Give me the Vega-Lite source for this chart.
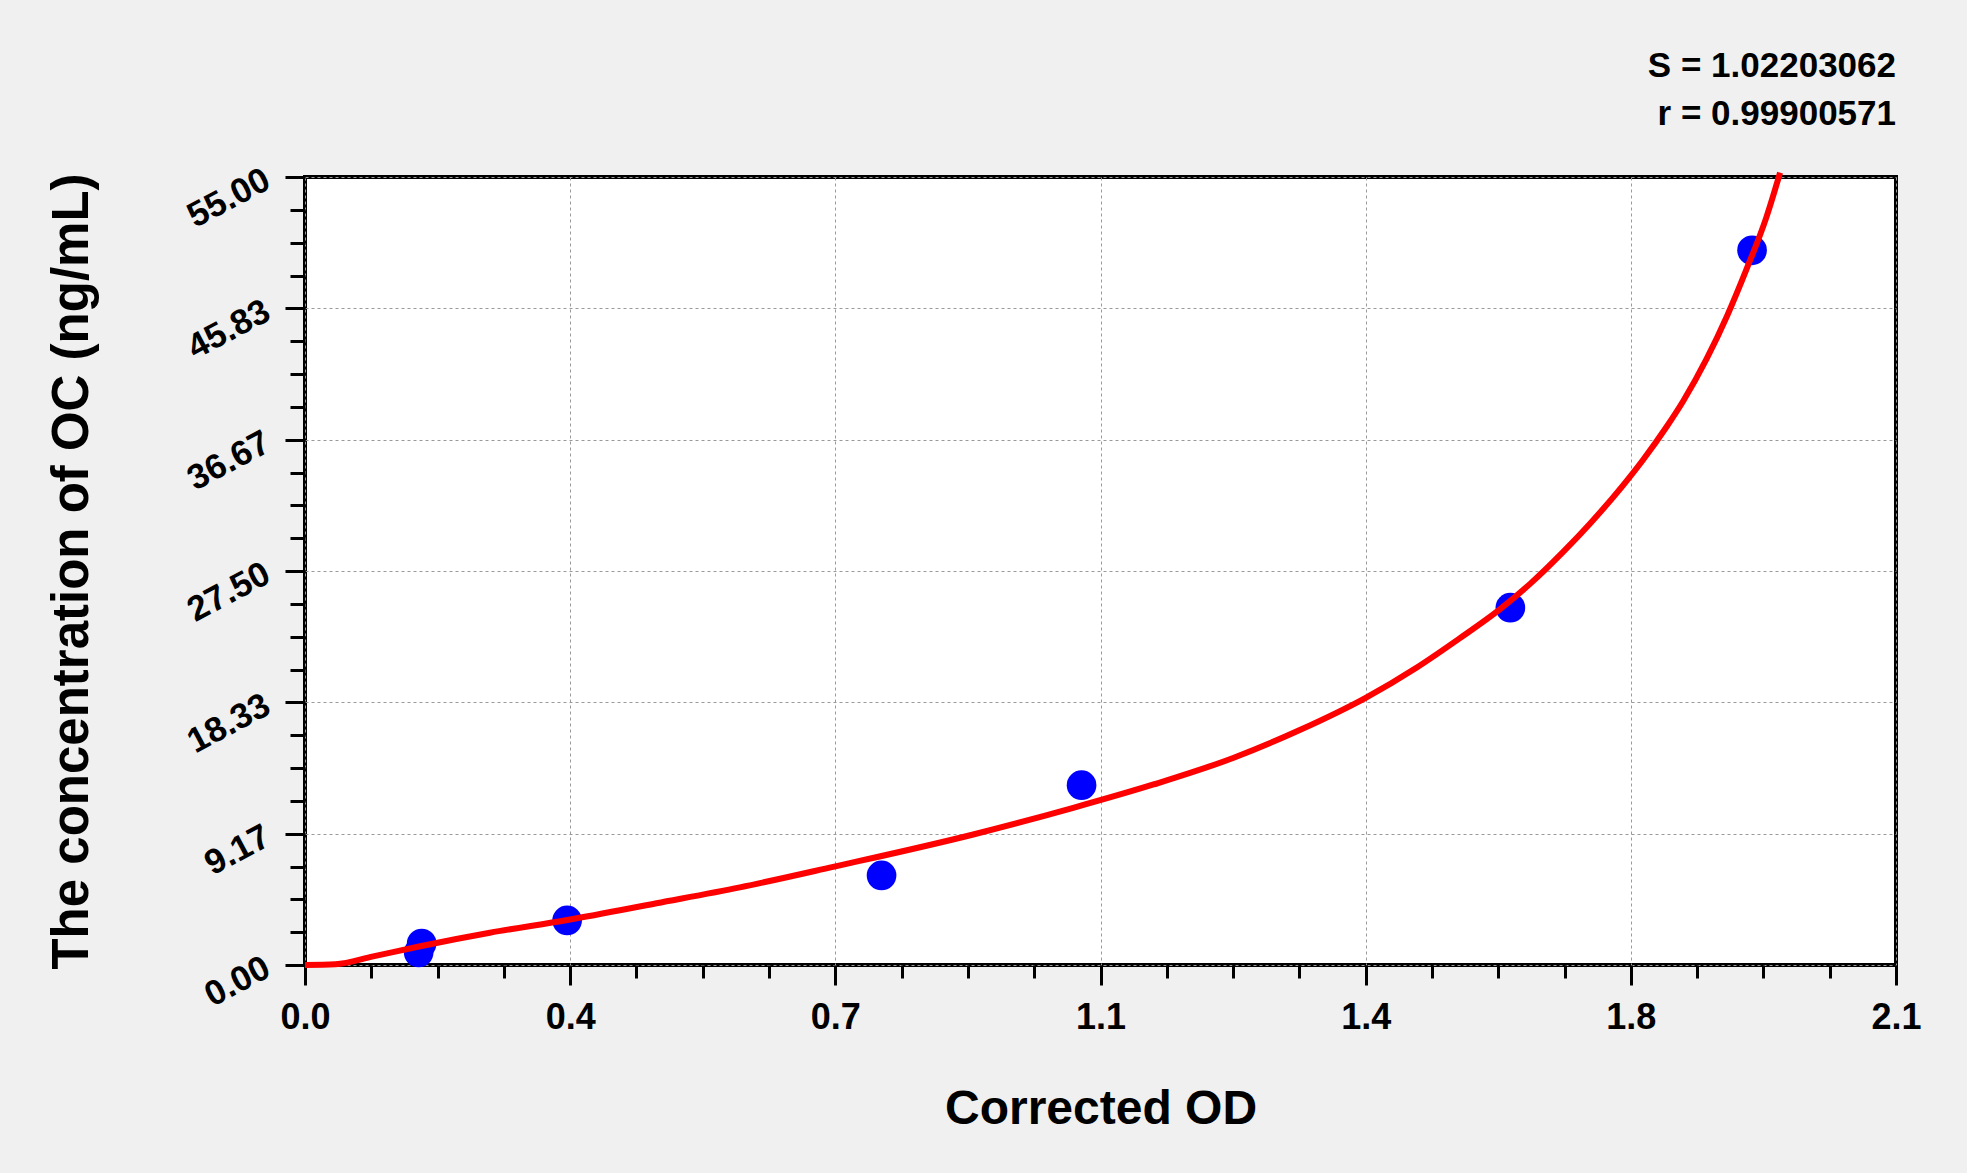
{
  "$schema": "https://vega.github.io/schema/vega-lite/v6.json",
  "width": 1591,
  "height": 788,
  "autosize": {"type": "none"},
  "padding": {"left": 305, "top": 177, "right": 71, "bottom": 208},
  "background": "#f0f0f0",
  "config": {
    "font": "Liberation Sans",
    "view": {"fill": "white", "stroke": "black", "strokeWidth": 4}
  },
  "title": {
    "text": ["S = 1.02203062", "r = 0.99900571"],
    "anchor": "end",
    "frame": "group",
    "font": "Liberation Sans",
    "fontSize": 35,
    "fontWeight": "bold",
    "color": "black",
    "lineHeight": 48,
    "offset": 29
  },
  "datasets": {
    "curve": [
      {"od": 0, "conc": 0},
      {"od": 0.04, "conc": 0.05},
      {"od": 0.09, "conc": 0.6},
      {"od": 0.152, "conc": 1.31},
      {"od": 0.244, "conc": 2.25},
      {"od": 0.346, "conc": 3.14},
      {"od": 0.464, "conc": 4.31},
      {"od": 0.574, "conc": 5.42},
      {"od": 0.697, "conc": 6.85},
      {"od": 0.882, "conc": 9.11},
      {"od": 1.014, "conc": 10.97},
      {"od": 1.12, "conc": 12.6},
      {"od": 1.225, "conc": 14.45},
      {"od": 1.313, "conc": 16.4},
      {"od": 1.4, "conc": 18.65},
      {"od": 1.467, "conc": 20.75},
      {"od": 1.524, "conc": 22.8},
      {"od": 1.577, "conc": 24.82},
      {"od": 1.617, "conc": 26.6},
      {"od": 1.661, "conc": 28.85},
      {"od": 1.696, "conc": 30.8},
      {"od": 1.74, "conc": 33.5},
      {"od": 1.766, "conc": 35.25},
      {"od": 1.797, "conc": 37.55},
      {"od": 1.819, "conc": 39.35},
      {"od": 1.85, "conc": 42.3},
      {"od": 1.877, "conc": 45.3},
      {"od": 1.903, "conc": 48.6},
      {"od": 1.929, "conc": 52.2},
      {"od": 1.947, "conc": 55.3}
    ],
    "standards": [
      {"od": 0.15, "conc": 0.87},
      {"od": 0.154, "conc": 1.5},
      {"od": 0.346, "conc": 3.11},
      {"od": 0.761, "conc": 6.25},
      {"od": 1.025, "conc": 12.55},
      {"od": 1.591, "conc": 24.94},
      {"od": 1.91, "conc": 49.88}
    ]
  },
  "layer": [
    {
      "data": {"name": "standards"},
      "mark": {"type": "point", "shape": "circle", "filled": true, "size": 880, "color": "#0000ff", "opacity": 1},
      "encoding": {
        "x": {
          "field": "od",
          "type": "quantitative",
          "scale": {"domain": [0, 2.1], "nice": false, "zero": false},
          "axis": {
            "orient": "bottom",
            "values": [0.0875, 0.175, 0.2625, 0.4375, 0.525, 0.6125, 0.7875, 0.875, 0.9625, 1.1375, 1.225, 1.3125, 1.4875, 1.575, 1.6625, 1.8375, 1.925, 2.0125],
            "labels": false,
            "domain": false,
            "grid": false,
            "tickSize": 13,
            "tickWidth": 3,
            "tickColor": "black",
            "title": null
          }
        },
        "y": {
          "field": "conc",
          "type": "quantitative",
          "scale": {"domain": [0, 55], "nice": false},
          "axis": {
            "orient": "left",
            "values": [2.291667, 4.583333, 6.875, 11.458333, 13.75, 16.041667, 20.625, 22.916667, 25.208333, 29.791667, 32.083333, 34.375, 38.958333, 41.25, 43.541667, 48.125, 50.416667, 52.708333],
            "labels": false,
            "domain": false,
            "grid": false,
            "tickSize": 15,
            "tickWidth": 3,
            "tickColor": "black",
            "title": null
          }
        }
      }
    },
    {
      "data": {"name": "curve"},
      "mark": {"type": "line", "color": "#ff0000", "strokeWidth": 6, "interpolate": "monotone"},
      "encoding": {
        "x": {
          "field": "od",
          "type": "quantitative",
          "scale": {"domain": [0, 2.1], "nice": false, "zero": false},
          "axis": {
            "orient": "bottom",
            "values": [0, 0.35, 0.7, 1.05, 1.4, 1.75, 2.1],
            "labelExpr": "format(datum.value + 0.0001, '.1f')",
            "domain": false,
            "grid": true,
            "gridColor": "#9a9a9a",
            "gridDash": [3, 3],
            "gridWidth": 1,
            "tickSize": 20,
            "tickWidth": 3,
            "tickColor": "black",
            "labelFont": "Liberation Sans",
            "labelFontSize": 36,
            "labelFontWeight": "bold",
            "labelColor": "black",
            "labelPadding": 15,
            "labelFlush": false,
            "labelOverlap": false,
            "title": "Corrected OD",
            "titleFont": "Liberation Sans",
            "titleFontSize": 48,
            "titleFontWeight": "bold",
            "titleColor": "black",
            "titlePadding": 50
          }
        },
        "y": {
          "field": "conc",
          "type": "quantitative",
          "scale": {"domain": [0, 55], "nice": false},
          "axis": {
            "orient": "left",
            "values": [0, 9.166667, 18.333333, 27.5, 36.666667, 45.833333, 55],
            "format": ".2f",
            "domain": false,
            "grid": true,
            "gridColor": "#9a9a9a",
            "gridDash": [3, 3],
            "gridWidth": 1,
            "tickSize": 20,
            "tickWidth": 3,
            "tickColor": "black",
            "labelFont": "Liberation Sans",
            "labelFontSize": 35,
            "labelFontWeight": "bold",
            "labelColor": "black",
            "labelAngle": -28,
            "labelAlign": "right",
            "labelBaseline": "middle",
            "labelPadding": 18,
            "labelFlush": false,
            "labelOverlap": false,
            "title": "The concentration of OC (ng/mL)",
            "titleFont": "Liberation Sans",
            "titleFontSize": 51,
            "titleFontWeight": "bold",
            "titleColor": "black",
            "titlePadding": 83
          }
        }
      }
    }
  ],
  "resolve": {"axis": {"x": "independent", "y": "independent"}}
}
